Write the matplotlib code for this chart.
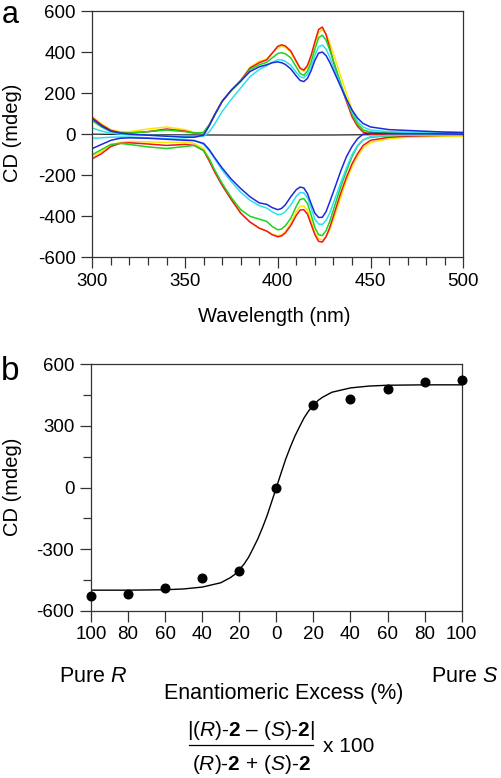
import matplotlib
matplotlib.use('Agg')
import matplotlib.pyplot as plt
from matplotlib.ticker import MultipleLocator, FuncFormatter
from matplotlib.lines import Line2D

plt.rcParams['font.family'] = ['Liberation Sans', 'DejaVu Sans']
plt.rcParams['axes.unicode_minus'] = False
plt.rcParams['mathtext.fontset'] = 'custom'
plt.rcParams['mathtext.rm'] = 'Liberation Sans'
plt.rcParams['mathtext.it'] = 'Liberation Sans:italic'
plt.rcParams['mathtext.bf'] = 'Liberation Sans:bold'

# ---- panel a: CD spectra ----
wl = [300, 305, 310, 315, 320, 330, 340, 350, 355, 360, 363, 366, 370, 375, 380, 385,
      390, 394, 397, 400, 402, 404, 407, 410, 412, 414, 416, 418, 420, 422, 424, 426,
      428, 431, 434, 437, 440, 443, 446, 450, 460, 470, 480, 490, 500]

yellow_pos = [85, 50, 22, 12, 12, 25, 35, 22, 8, 5, 40, 90, 158, 213, 260, 325,
              355, 366, 395, 420, 428, 423, 398, 350, 317, 306, 328, 375, 440, 495, 510, 490,
              445, 365, 280, 200, 120, 58, 20, 5, 2, 2, 2, 2, 2]
red_pos = [80, 45, 18, 8, 6, 12, 25, 15, 5, 8, 45, 95, 160, 215, 262, 322,
           348, 362, 395, 428, 435, 430, 405, 355, 322, 312, 335, 385, 450, 510, 522, 485,
           420, 320, 235, 160, 85, 38, 10, 0, -3, -3, -2, -2, -2]
green_pos = [65, 35, 12, 5, 5, 12, 20, 12, 5, 8, 45, 95, 160, 213, 258, 315,
             338, 350, 372, 393, 397, 392, 372, 327, 296, 286, 308, 352, 415, 470, 482, 458,
             410, 330, 245, 170, 100, 48, 20, 10, 6, 5, 5, 5, 5]
cyan_pos = [30, 15, 5, 0, -2, -5, -8, -10, -12, -10, 10, 50, 110, 170, 225, 280,
            315, 333, 350, 362, 362, 355, 336, 300, 280, 274, 292, 330, 385, 425, 434, 415,
            375, 305, 235, 170, 110, 62, 35, 20, 12, 10, 10, 10, 8]
blue_pos = [75, 40, 15, 5, 0, -5, -10, -15, -15, -5, 40, 95, 160, 215, 258, 305,
            328, 338, 348, 352, 348, 340, 318, 283, 262, 256, 272, 310, 360, 395, 400, 383,
            350, 290, 230, 170, 118, 78, 52, 35, 22, 18, 14, 10, 8]

yellow_neg = [-110, -85, -55, -40, -35, -38, -40, -40, -45, -70, -120, -180, -245, -318, -383, -428,
              -458, -472, -488, -495, -490, -475, -435, -378, -352, -350, -372, -425, -478, -510,
              -515, -500, -465, -390, -305, -225, -160, -108, -68, -40, -22, -15, -12, -10, -10]
red_neg = [-120, -95, -60, -45, -42, -48, -55, -50, -55, -80, -130, -185, -250, -320, -385, -428,
           -458, -472, -490, -500, -496, -482, -445, -395, -370, -368, -390, -440, -490, -522,
           -526, -500, -455, -370, -285, -210, -145, -95, -55, -30, -15, -10, -8, -6, -5]
green_neg = [-100, -75, -50, -45, -50, -62, -70, -60, -55, -80, -120, -175, -240, -310, -368, -400,
             -414, -425, -450, -466, -462, -447, -410, -350, -318, -314, -338, -395, -455, -490,
             -494, -470, -425, -340, -255, -180, -110, -58, -28, -15, -8, -6, -5, -5, -5]
cyan_neg = [-20, -18, -15, -14, -14, -18, -22, -25, -30, -50, -80, -120, -175, -232, -283, -322,
            -348, -360, -378, -392, -390, -378, -345, -302, -285, -286, -310, -360, -415, -438,
            -440, -420, -385, -310, -235, -165, -100, -55, -28, -12, -6, -5, -5, -5, -5]
blue_neg = [-70, -50, -30, -20, -18, -20, -25, -30, -32, -45, -75, -115, -165, -220, -265, -305,
            -335, -342, -358, -368, -362, -345, -305, -270, -258, -262, -290, -340, -385, -406,
            -405, -378, -330, -255, -178, -110, -60, -22, 0, 5, 3, 2, 2, 1, 0]

base_wl = [300, 330, 360, 400, 430, 460, 500]
base_cd = [0, -3, -4, -5, -4, -2, 0]

# ---- panel b: CD vs enantiomeric excess ----
ee_pts = [-100, -80, -60, -40, -20, 0, 20, 40, 60, 80, 100]
cd_pts = [-528, -517, -491, -439, -405, 0, 402, 432, 480, 515, 524]

fit_ee = [-100, -80, -60, -50, -40, -30, -25, -22.5, -20, -17.5, -15, -12.5, -10, -7.5, -5,
          -2.5, 0, 2.5, 5, 7.5, 10, 12.5, 15, 17.5, 20, 22.5, 25, 30, 40, 50, 60, 80, 100]
fit_cd = [-500, -500, -498, -494, -485, -464, -440, -424, -400, -374, -340, -296, -250, -196,
          -137, -69, 0, 69, 137, 196, 250, 296, 340, 374, 400, 424, 440, 464, 485, 494, 498,
          500, 500]

W, H = 501, 778
fig = plt.figure(figsize=(W / 100, H / 100), dpi=100)

ax1 = fig.add_axes([92.3 / W, 1 - 257.3 / H, 371 / W, 246.3 / H])
ax2 = fig.add_axes([91 / W, 1 - 610.7 / H, 370.7 / W, 246.4 / H])

lw = 1.1
ax1.plot(base_wl, base_cd, color='#222222', lw=0.9)
for pos, neg, col in [(yellow_pos, yellow_neg, '#ffe600'),
                      (red_pos, red_neg, '#f0141e'),
                      (green_pos, green_neg, '#1ed21e'),
                      (cyan_pos, cyan_neg, '#2de1f0'),
                      (blue_pos, blue_neg, '#1e28dc')]:
    ax1.plot(wl, pos, color=col, lw=lw)
    ax1.plot(wl, neg, color=col, lw=lw)

ax1.set_xlim(300, 500)
ax1.set_ylim(-600, 600)
ax1.xaxis.set_major_locator(MultipleLocator(50))
ax1.xaxis.set_minor_locator(MultipleLocator(10))
ax1.yaxis.set_major_locator(MultipleLocator(200))

ax2.plot(fit_ee, fit_cd, color='black', lw=1.0)
ax2.plot(ee_pts, cd_pts, 'o', color='black', ms=6.2, clip_on=False, zorder=5)
ax2.set_xlim(-100, 100)
ax2.set_ylim(-600, 600)
ax2.xaxis.set_major_locator(MultipleLocator(20))
ax2.yaxis.set_major_locator(MultipleLocator(300))
ax2.yaxis.set_minor_locator(MultipleLocator(150))
ax2.xaxis.set_major_formatter(FuncFormatter(lambda v, p: '%d' % abs(round(v))))

for ax in (ax1, ax2):
    for s in ax.spines.values():
        s.set_linewidth(0.9)
        s.set_color('#333333')
    ax.tick_params(which='major', direction='out', length=8, width=0.9,
                   labelsize=13.5, pad=3, color='#333333')
    ax.tick_params(which='minor', direction='out', length=6, width=0.9, color='#333333')
    ax.tick_params(axis='y', pad=4)

fs = 14.5
fig.text(13 / W, 1 - 133 / H, 'CD (mdeg)', rotation=90, ha='center', va='center', fontsize=fs)
fig.text(13 / W, 1 - 487 / H, 'CD (mdeg)', rotation=90, ha='center', va='center', fontsize=fs)
fig.text(274 / W, 1 - 317 / H, 'Wavelength (nm)', ha='center', va='center', fontsize=fs)
fig.text(2 / W, 1 - 23 / H, 'a', ha='left', va='baseline', fontsize=22)
fig.text(1 / W, 1 - 380 / H, 'b', ha='left', va='baseline', fontsize=24)

fb = 15.5
fig.text(93 / W, 1 - 677 / H, r'Pure $\mathit{R}$', ha='center', va='center', fontsize=fb)
fig.text(465 / W, 1 - 677 / H, r'Pure $\mathit{S}$', ha='center', va='center', fontsize=fb)
fig.text(284 / W, 1 - 693 / H, 'Enantiomeric Excess (%)', ha='center', va='center', fontsize=fb)

fig.text(251 / W, 1 - 731 / H,
         r'|($\mathit{R}$)-$\mathbf{2}$ – ($\mathit{S}$)-$\mathbf{2}$|',
         ha='center', va='center', fontsize=15)
fig.text(251 / W, 1 - 764 / H,
         r'($\mathit{R}$)-$\mathbf{2}$ + ($\mathit{S}$)-$\mathbf{2}$',
         ha='center', va='center', fontsize=15)
fig.add_artist(Line2D([189 / W, 313 / W], [1 - 745 / H, 1 - 745 / H],
                      transform=fig.transFigure, color='black', lw=0.9))
fig.text(323 / W, 1 - 747 / H, 'x 100', ha='left', va='center', fontsize=15)

fig.savefig('out.png', dpi=100)
